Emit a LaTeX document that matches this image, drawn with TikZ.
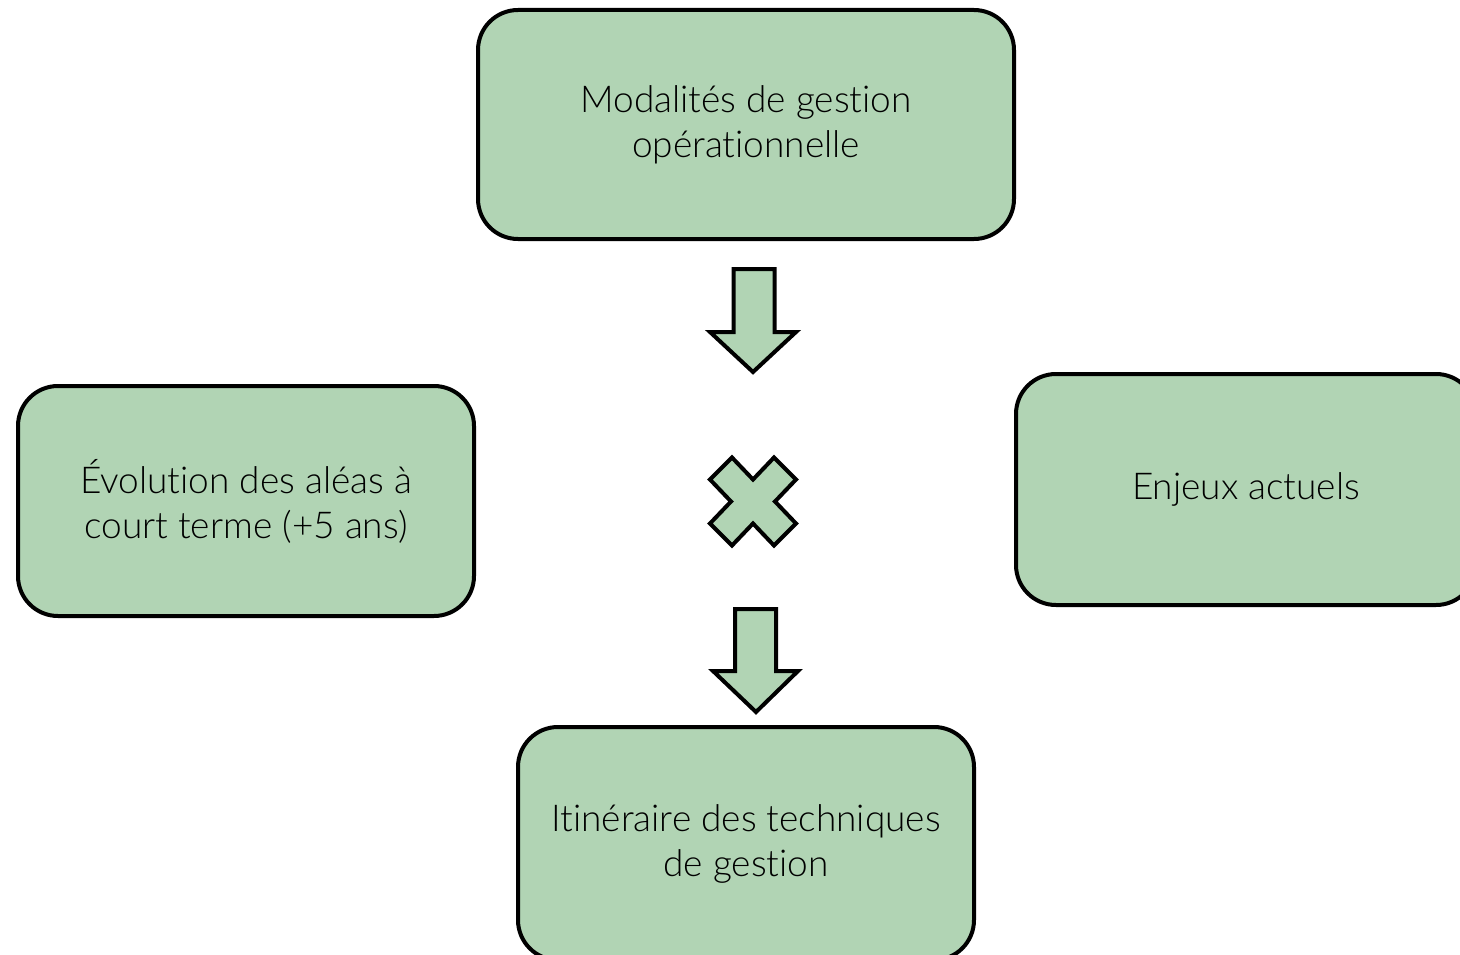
\documentclass[tikz,border=0pt]{standalone}
\usepackage{fontspec}
\setmainfont{Lato}[UprightFont=* Light, Ligatures={NoCommon}]
\definecolor{boxgreen}{RGB}{177,212,180}
\begin{document}
\begin{tikzpicture}[x=1pt,y=-1pt,
  gbox/.style={draw=black, line width=4pt, fill=boxgreen, rounded corners=40pt,
    align=center, inner sep=0pt, font=\fontsize{37}{45}\selectfont},
  gshape/.style={draw=black, line width=4pt, fill=boxgreen, line join=miter}]
\useasboundingbox (0,0) rectangle (1460,955);
\clip (0,0) rectangle (1460,955);
\node[gbox, minimum width=536pt, minimum height=229pt] (top) at (746,124.5) {Modalités de gestion\\opérationnelle};
\node[gbox, minimum width=456pt, minimum height=230pt] (left) at (246,501) {Évolution des aléas à\\court terme (+5 ans)};
\node[gbox, minimum width=460pt, minimum height=231pt] (right) at (1246,489.5) {Enjeux actuels};
\node[gbox, minimum width=456pt, minimum height=233pt] (bottom) at (746,843.5) {Itinéraire des techniques\\de gestion};
% arrow 1
\draw[gshape] (733.5,269) -- (774.5,269) -- (774.5,332) -- (796,332) -- (753,372) -- (710,332) -- (733.5,332) -- cycle;
% cross
\begin{scope}[shift={(753,501.5)}]
\draw[gshape] (-43,-22) -- (-21,-44) -- (0,-22) -- (21,-44) -- (43,-22) -- (22,0) -- (43,22) -- (21,44) -- (0,22) -- (-21,44) -- (-43,22) -- (-22,0) -- cycle;
\end{scope}
% arrow 2
\draw[gshape] (735,609) -- (776,609) -- (776,671) -- (798,671) -- (756,712) -- (713,671) -- (735,671) -- cycle;
\end{tikzpicture}
\end{document}
